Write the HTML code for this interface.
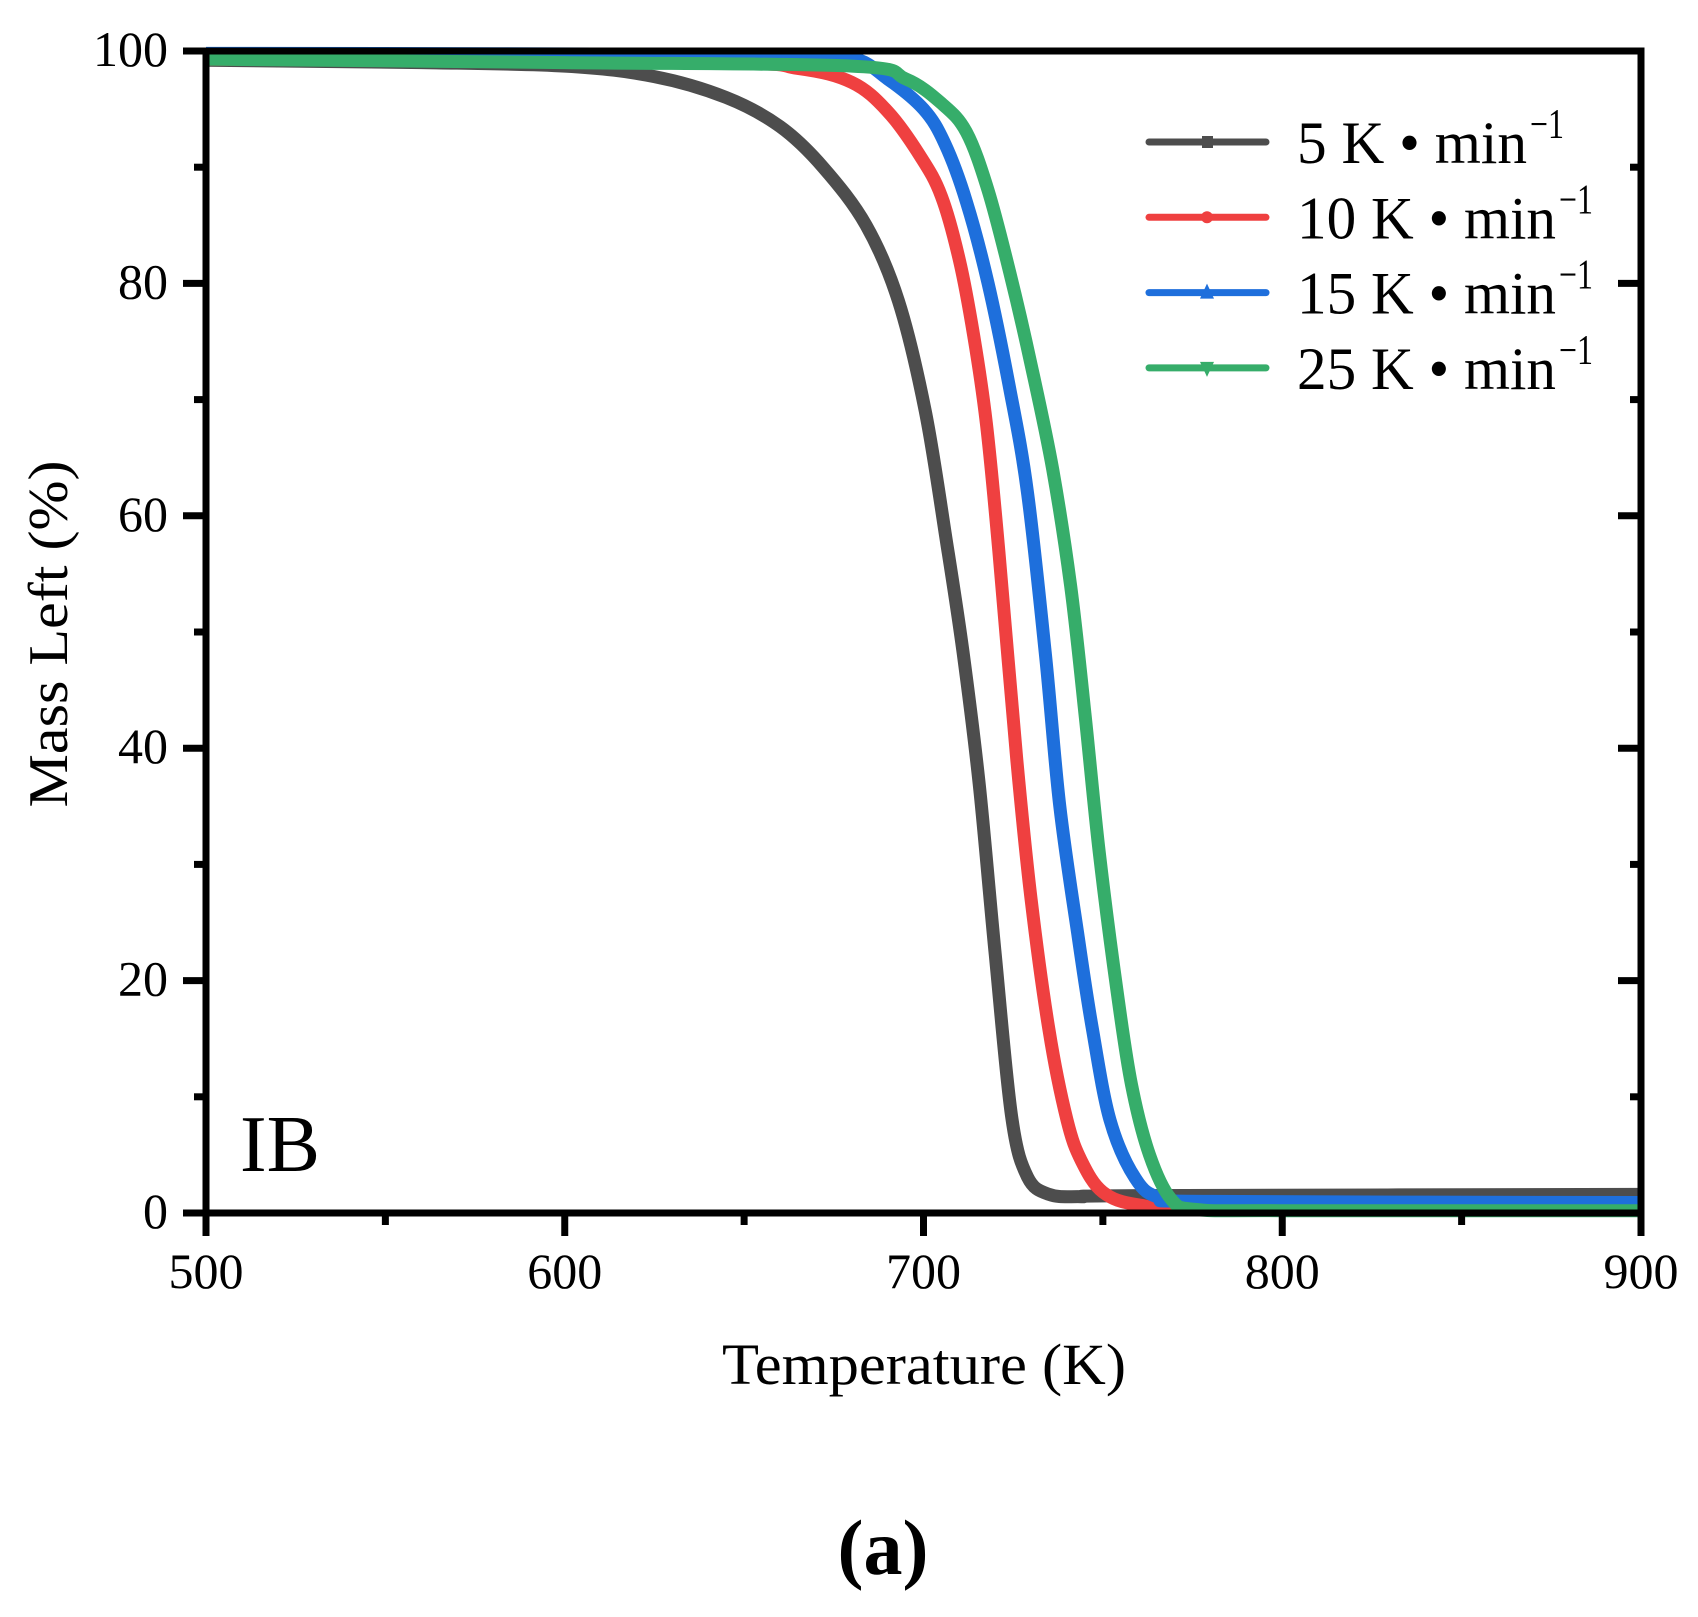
<!DOCTYPE html>
<html><head><meta charset="utf-8"><style>
html,body{margin:0;padding:0;background:#fff}
svg{display:block}
text{font-family:"Liberation Serif",serif;fill:#000}
</style></head><body>
<svg id="s" width="1698" height="1617" viewBox="0 0 1698 1617" xmlns="http://www.w3.org/2000/svg">
<g id="curves" fill="none" stroke-width="13" stroke-linejoin="round" stroke-linecap="butt"></g>
<g stroke="#000" stroke-width="7" fill="none">
<line x1="206" y1="51" x2="1641" y2="51"/>
<line x1="206" y1="47.5" x2="206" y2="1216.5"/>
<line x1="1641" y1="47.5" x2="1641" y2="1216.5"/>
<line x1="202.5" y1="1213" x2="1644.5" y2="1213"/>
</g>
<g id="ticks" stroke="#000" stroke-width="7"></g>
<g id="labels" font-size="50"></g>
<text x="240" y="1171" font-size="80">IB</text>
<text x="924" y="1384" font-size="58" text-anchor="middle" textLength="404" lengthAdjust="spacingAndGlyphs">Temperature (K)</text>
<text transform="translate(67,634) rotate(-90)" font-size="56" text-anchor="middle" textLength="347" lengthAdjust="spacingAndGlyphs">Mass Left (%)</text>
<text x="883" y="1574" font-size="78" font-weight="bold" text-anchor="middle">(a)</text>
<g id="legend"></g>
</svg>
<script>
var NS="http://www.w3.org/2000/svg";
function X(t){return 206+(t-500)*3.5875;}
function Y(m){return 1213-m*11.62;}
function el(tag,attrs,parent,txt){var e=document.createElementNS(NS,tag);for(var k in attrs)e.setAttribute(k,attrs[k]);if(txt!==undefined)e.textContent=txt;parent.appendChild(e);return e;}
var series=[
 ["#4d4d4d",[[500,99.2],[560,99],[600,98.7],[625,97.8],[645,96],[660,93.5],[672,90],[684,85],[693,78.5],[700.5,69],[706.5,57.6],[711,48.3],[715.5,37],[720,22.2],[724.6,8.2],[729,3.1],[735,1.6],[744,1.4],[760,1.5],[900,1.6]]],
 ["#ef4040",[[500,99.3],[640,99],[665,98.5],[680,97.3],[690,94.8],[699,91],[705,87.5],[710,82],[714,75.5],[717.5,68],[721,57],[726,39],[730,27],[735,15.7],[740,8],[744,4.5],[750,1.8],[760,0.7],[780,0.5],[900,0.5]]],
 ["#1e6fdc",[[500,99.8],[660,99.7],[680,99.4],[690,97.6],[700,95],[706,92],[712,87],[718,80],[724,71],[729,62],[734,48],[738,35],[743,24],[747,16],[752,8],[759,3],[766,1.3],[780,1.0],[900,0.9]]],
 ["#36ad6a",[[500,99.3],[600,99],[680,98.7],[695,97.6],[705,95.5],[712,93],[718,88],[724,81],[730,73],[736,64],[741,54],[745,43],[749,31],[754,19],[758,11],[763,5],[769,1.2],[776,0.3],[800,0.2],[900,0.2]]]
];
var cg=document.getElementById("curves");
series.forEach(function(s){
 var p=s[1].map(function(q){return [X(q[0]),Y(q[1])];});
 var d="M"+p[0][0]+","+p[0][1];
 for(var i=0;i<p.length-1;i++){
  var p0=p[Math.max(i-1,0)],p1=p[i],p2=p[i+1],p3=p[Math.min(i+2,p.length-1)];
  var c1=[p1[0]+(p2[0]-p0[0])/6,p1[1]+(p2[1]-p0[1])/6];
  var c2=[p2[0]-(p3[0]-p1[0])/6,p2[1]-(p3[1]-p1[1])/6];
  d+=" C"+c1[0].toFixed(1)+","+c1[1].toFixed(1)+" "+c2[0].toFixed(1)+","+c2[1].toFixed(1)+" "+p2[0].toFixed(1)+","+p2[1].toFixed(1);
 }
 el("path",{d:d,stroke:s[0]},cg);
});
var tg=document.getElementById("ticks"),lg=document.getElementById("labels");
for(var t=500;t<=900;t+=50){var x=X(t),maj=(t%100==0);
 el("line",{x1:x,y1:1213,x2:x,y2:maj?1236:1225},tg);
 if(maj)el("text",{x:x,y:1288,"text-anchor":"middle"},lg,String(t));}
for(var m=0;m<=100;m+=10){var y=Y(m),maj=(m%20==0);
 el("line",{x1:206,y1:y,x2:maj?183:194,y2:y},tg);
 el("line",{x1:1641,y1:y,x2:maj?1618:1630,y2:y},tg);
 if(maj)el("text",{x:168,y:y+15,"text-anchor":"end"},lg,String(m));}
var leg=document.getElementById("legend");
var items=[["#4d4d4d","5 K • min",1527,"sq"],["#ef4040","10 K • min",1556,"ci"],["#1e6fdc","15 K • min",1556,"up"],["#36ad6a","25 K • min",1556,"dn"]];
items.forEach(function(it,i){
 var ly=142+i*75.3,by=163+i*75.3;
 el("line",{x1:1149,y1:ly,x2:1266,y2:ly,stroke:it[0],"stroke-width":7,"stroke-linecap":"round"},leg);
 if(it[3]=="sq")el("rect",{x:1202,y:ly-6,width:11,height:12,fill:it[0]},leg);
 if(it[3]=="ci")el("circle",{cx:1207,cy:ly,r:6,fill:it[0]},leg);
 if(it[3]=="up")el("polygon",{points:(1200)+","+(ly+6)+" 1214,"+(ly+6)+" 1207,"+(ly-9),fill:it[0]},leg);
 if(it[3]=="dn")el("polygon",{points:"1200,"+(ly-6)+" 1214,"+(ly-6)+" 1207,"+(ly+9),fill:it[0]},leg);
 el("text",{x:1297,y:by,"font-size":60,textLength:it[2]-1297,lengthAdjust:"spacingAndGlyphs"},leg,it[1]);
 el("text",{x:it[2]+3,y:by-25,"font-size":42,textLength:34,lengthAdjust:"spacingAndGlyphs"},leg,"−1");
});
</script>
</body></html>
